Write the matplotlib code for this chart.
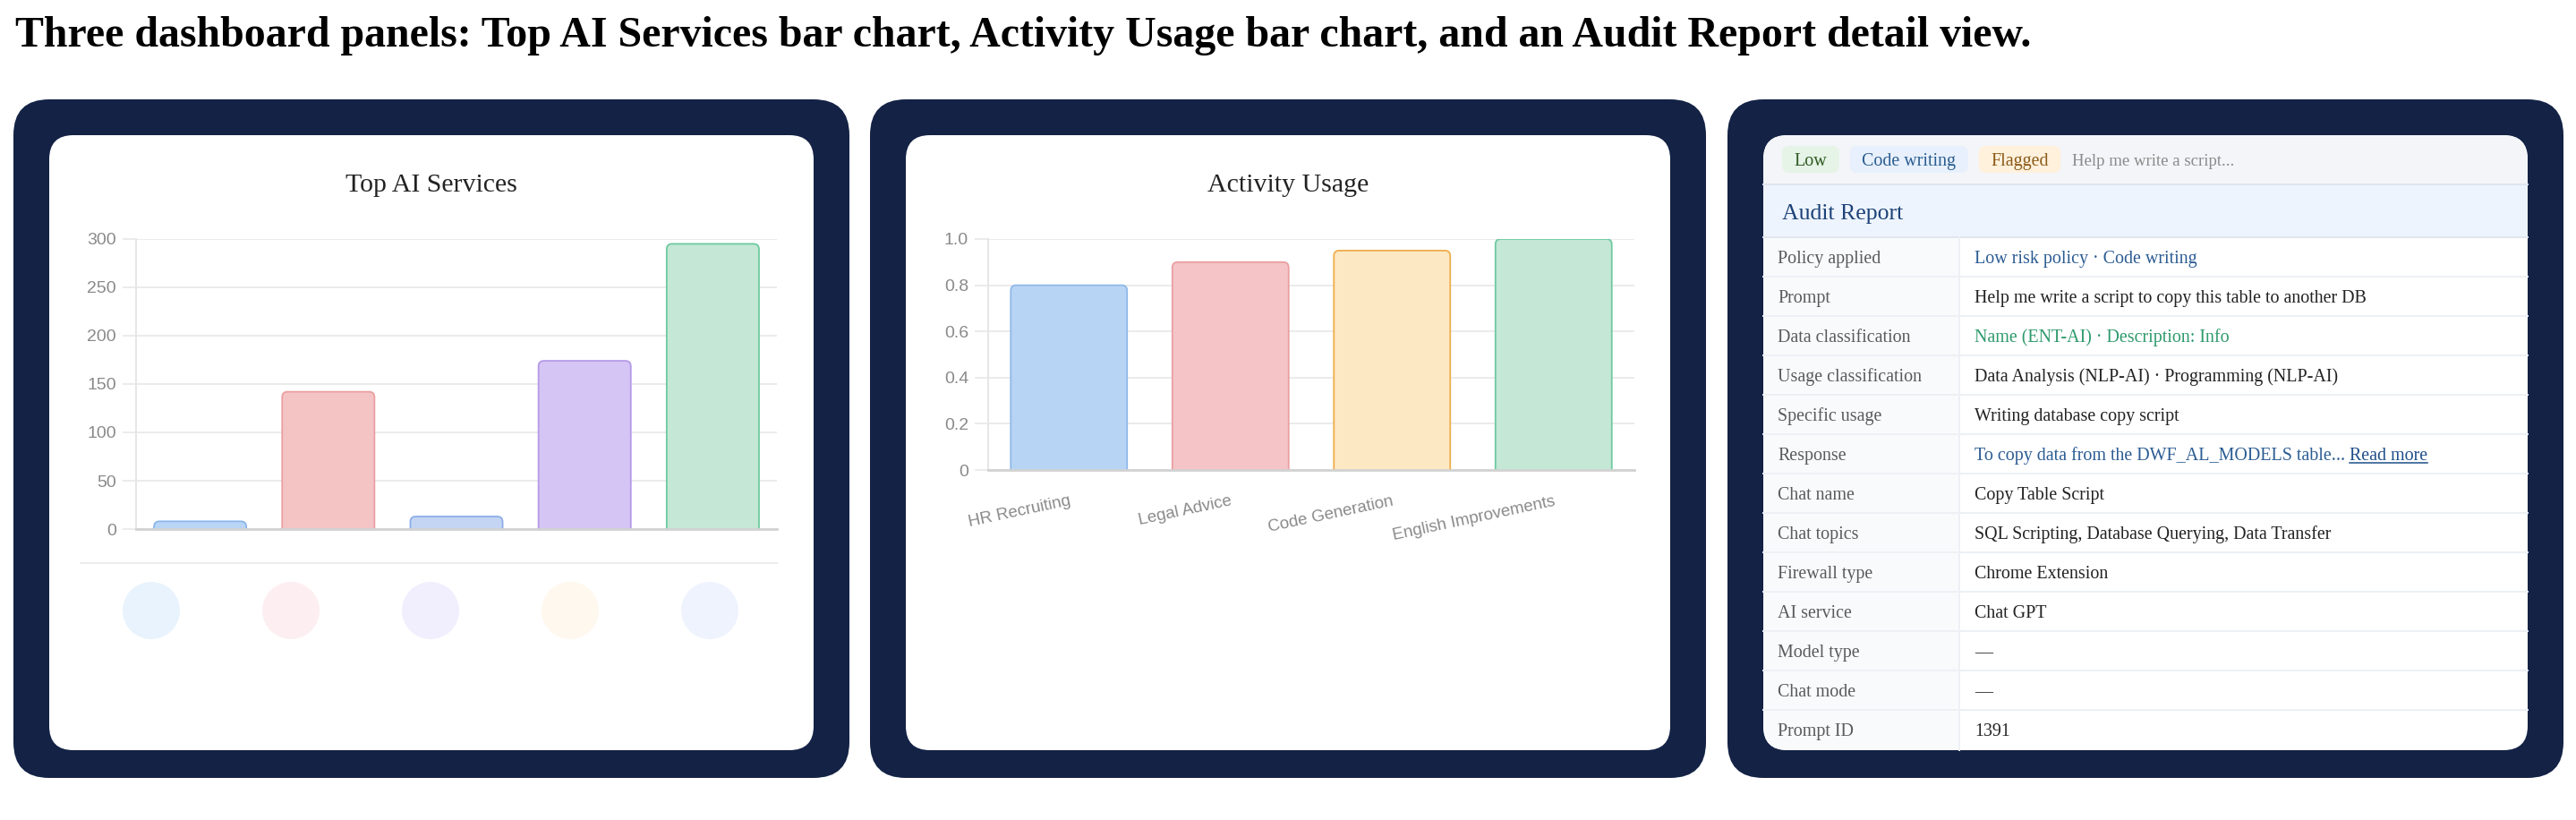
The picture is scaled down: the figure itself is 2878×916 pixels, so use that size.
import numpy as np
import matplotlib
matplotlib.use('Agg')
import matplotlib.pyplot as plt
from matplotlib.patches import FancyBboxPatch, Rectangle, Circle

W, H, DPI = 2878, 916, 100
SERIF = ['Liberation Serif', 'DejaVu Serif']
SANS = ['Liberation Sans', 'DejaVu Sans']
NAVY = '#132245'

# ---- data ----
page_title = ('Three dashboard panels: Top AI Services bar chart, Activity Usage bar chart, '
              'and an Audit Report detail view.')

service_title = 'Top AI Services'
service_values = [8, 142, 13, 174, 295]
service_fill = ['#b9d5f5', '#f4c4c5', '#c4d5f3', '#d5c5f5', '#c4e8d5']
service_edge = ['#8cb7ea', '#eb9ea1', '#8eaeea', '#b49ae8', '#6ec9a0']
service_ticks = [0, 50, 100, 150, 200, 250, 300]
legend_dots = ['#e8f3fd', '#fdeff1', '#f1effd', '#fef8ee', '#eef3fd']

activity_title = 'Activity Usage'
activity_labels = ['HR Recruiting', 'Legal Advice', 'Code Generation', 'English Improvements']
activity_values = [0.8, 0.9, 0.95, 1.0]
activity_fill = ['#b8d4f4', '#f4c4c6', '#fde8c4', '#c4e8d5']
activity_edge = ['#8fb8ea', '#eb9fa2', '#efae4c', '#6ec9a0']
activity_ticks = [0, 0.2, 0.4, 0.6, 0.8, 1.0]
activity_ticklabels = ['0', '0.2', '0.4', '0.6', '0.8', '1.0']

pill_texts = ['Low', 'Code writing', 'Flagged']
pill_bg = ['#e5f4e7', '#e7f0fc', '#fff1dc']
pill_fg = ['#2f5a22', '#2b5c8f', '#8a5a17']
preview_text = 'Help me write a script...'

audit_labels = ['Policy applied', 'Prompt', 'Data classification', 'Usage classification',
                'Specific usage', 'Response', 'Chat name', 'Chat topics', 'Firewall type',
                'AI service', 'Model type', 'Chat mode', 'Prompt ID']
audit_values = ['Low risk policy \u00b7 Code writing',
                'Help me write a script to copy this table to another DB',
                'Name (ENT-AI) \u00b7 Description: Info',
                'Data Analysis (NLP-AI) \u00b7 Programming (NLP-AI)',
                'Writing database copy script',
                'To copy data from the DWF_AL_MODELS table... ',
                'Copy Table Script',
                'SQL Scripting, Database Querying, Data Transfer',
                'Chrome Extension',
                'Chat GPT',
                '\u2014',
                '\u2014',
                '1391']
audit_colors = ['#2b5c93', '#222222', '#2e9a6c', '#222222', '#222222', '#2b5c93', '#222222',
                '#222222', '#222222', '#222222', '#222222', '#222222', '#222222']
read_more = 'Read more'

# ---- canvas in pixel coordinates ----
fig = plt.figure(figsize=(W / DPI, H / DPI), dpi=DPI)
fig.patch.set_facecolor('white')
bg = fig.add_axes([0, 0, 1, 1])
bg.set_xlim(0, W)
bg.set_ylim(H, 0)
bg.axis('off')


def rbox(x, y, w, h, r, **kw):
    p = FancyBboxPatch((x, y), w, h, boxstyle=f'round,pad=0,rounding_size={r}', **kw)
    bg.add_patch(p)
    return p


bg.text(17, 52, page_title, fontsize=34.5, fontweight='bold', family=SERIF, color='black', va='baseline')

panel_left = [15, 972, 1930]
inner = []
for x0 in panel_left:
    rbox(x0, 111, 934, 758, 40, fc=NAVY, ec='none')
    inner.append(rbox(x0 + 40, 151, 854, 687, 27, fc='white', ec='none'))


def px_axes(l, t, r, b):
    return fig.add_axes([l / W, 1 - b / H, (r - l) / W, (b - t) / H])


def style_axes(ax, ticks, ticklabels):
    ax.set_ylim(0, ticks[-1])
    ax.set_yticks(ticks)
    ax.set_yticklabels(ticklabels, family=SANS)
    ax.grid(axis='y', color='#ebebeb', lw=1.4)
    ax.set_axisbelow(True)
    for s in ['top', 'right']:
        ax.spines[s].set_visible(False)
    ax.spines['left'].set_color('#e6e6e6')
    ax.spines['left'].set_linewidth(1.4)
    ax.spines['bottom'].set_color('#d2d2d2')
    ax.spines['bottom'].set_linewidth(2)
    ax.tick_params(axis='y', length=10.8, width=1.4, color='#ebebeb',
                   labelcolor='#8a8a8a', labelsize=14, pad=5)
    ax.patch.set_alpha(0)


def rounded_bars(ax, values, fills, edges, r_px=6):
    n = len(values)
    ax.set_xlim(-0.5, n - 0.5)
    bb = ax.get_position()
    x_per_px = n / (bb.width * W)
    y_per_px = ax.get_ylim()[1] / (bb.height * H)
    r = r_px * x_per_px
    below = 3 * r_px * y_per_px
    for i, (v, fc, ec) in enumerate(zip(values, fills, edges)):
        ax.add_patch(FancyBboxPatch((i - 0.36, -below), 0.72, v + below,
                                    boxstyle=f'round,pad=0,rounding_size={r}',
                                    mutation_aspect=y_per_px / x_per_px,
                                    fc=fc, ec=ec, lw=1.3, zorder=2))


# ---- panel 1: Top AI Services ----
bg.text(482, 214, service_title, fontsize=21.5, family=SERIF, color='#222222', ha='center', va='baseline')
ax1 = px_axes(152, 267, 868, 591)
style_axes(ax1, service_ticks, [str(t) for t in service_ticks])
rounded_bars(ax1, service_values, service_fill, service_edge)
ax1.set_xticks(range(len(service_values)))
ax1.tick_params(axis='x', length=0, labelbottom=False)

bg.plot([90, 868], [629, 629], color='#ececec', lw=1.4)
for cx, c in zip(np.linspace(169, 793, len(legend_dots)), legend_dots):
    bg.add_patch(Circle((cx, 682), 32, fc=c, ec='none'))

# ---- panel 2: Activity Usage ----
bg.text(1439, 214, activity_title, fontsize=21.5, family=SERIF, color='#222222', ha='center', va='baseline')
ax2 = px_axes(1104, 267, 1826, 525)
style_axes(ax2, activity_ticks, activity_ticklabels)
rounded_bars(ax2, activity_values, activity_fill, activity_edge)
ax2.set_xticks(range(len(activity_labels)))
ax2.set_xticklabels(activity_labels, rotation=12, ha='right', va='top',
                    rotation_mode='anchor', family=SANS)
ax2.tick_params(axis='x', length=0, labelcolor='#8a8a8a', labelsize=13.5, pad=19)

# ---- panel 3: Audit Report ----
card = inner[2]
x0, x1 = 1970, 2824
col = 2189
row_top, row_h = 265, 44
strips = [Rectangle((x0, 151), x1 - x0, 55, fc='#f3f5f8', ec='none'),
          Rectangle((x0, 206), x1 - x0, 59, fc='#eef4fd', ec='none'),
          Rectangle((x0, row_top), col - x0, 838 - row_top, fc='#f8fafc', ec='none')]
for s in strips:
    bg.add_patch(s)
    s.set_clip_path(card)

bg.plot([x0, x1], [206, 206], color='#e1e6ee', lw=1.4)
bg.plot([x0, x1], [row_top, row_top], color='#e1e6ee', lw=1.4)
for i in range(1, len(audit_labels)):
    bg.plot([x0, x1], [row_top + i * row_h] * 2, color='#edf0f4', lw=1.4)
bg.plot([col, col], [row_top, 838], color='#edf0f4', lw=1.4)

renderer = fig.canvas.get_renderer()
px = 1991
for txt, b, f in zip(pill_texts, pill_bg, pill_fg):
    t = bg.text(px + 13.5, 185, txt, fontsize=14.4, family=SERIF, color=f, va='baseline', zorder=3)
    w = t.get_window_extent(renderer).width
    rbox(px, 163, w + 27, 30, 8, fc=b, ec='none')
    px += w + 27 + 12
bg.text(px + 1, 185, preview_text, fontsize=13.5, family=SERIF, color='#8a8a8a', va='baseline')

bg.text(1991, 245, 'Audit Report', fontsize=18.5, family=SERIF, color='#1d4378', va='baseline')

for i, (lab, val, c) in enumerate(zip(audit_labels, audit_values, audit_colors)):
    base = row_top + i * row_h + 29
    bg.text(1986, base, lab, fontsize=14.4, family=SERIF, color='#5a5a5a', va='baseline')
    t = bg.text(2206, base, val, fontsize=14.4, family=SERIF, color=c, va='baseline')
    if lab == 'Response':
        w = t.get_window_extent(renderer).width
        rm = bg.text(2206 + w, base, read_more, fontsize=14.4, family=SERIF, color='#1e4f8a', va='baseline')
        rw = rm.get_window_extent(renderer).width
        bg.plot([2206 + w, 2206 + w + rw], [base + 3, base + 3], color='#1e4f8a', lw=1.1)

fig.savefig('out.png', dpi=DPI)
